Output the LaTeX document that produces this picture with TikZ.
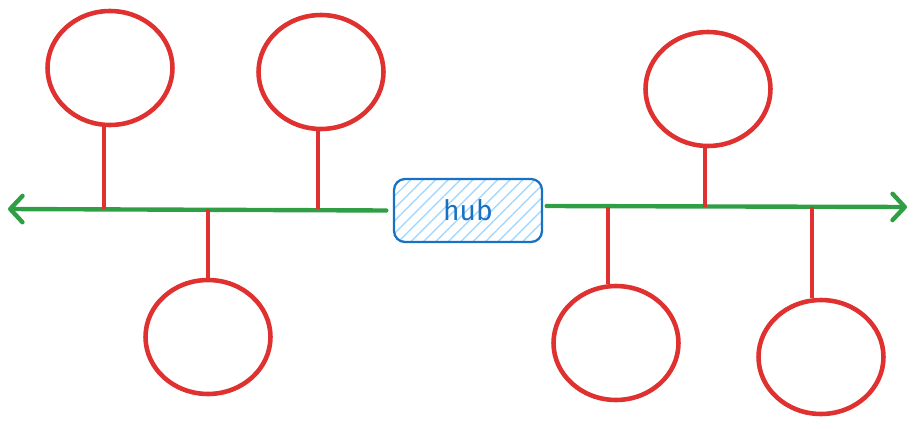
\documentclass[tikz,border=0pt]{standalone}
\usepackage{fontspec}
\setmainfont{Fira Sans}
\usetikzlibrary{shapes.geometric,arrows.meta,patterns.meta}
\definecolor{stemred}{HTML}{E03131}
\definecolor{busgreen}{HTML}{2F9E44}
\definecolor{hubblue}{HTML}{1971C2}
\definecolor{hubhatch}{HTML}{A5D8FF}
\tikzset{
  peer/.style={ellipse, draw=stemred, line width=2.6pt, minimum width=2.5cm, minimum height=2.28cm, inner sep=0pt},
  stem/.style={stemred, line width=2.6pt},
  bus/.style={busgreen, line width=2.5pt, line cap=round, -{Straight Barb[length=7pt,width=15pt,line width=2.5pt,round]}},
  hubbox/.style={draw=hubblue, line width=1.3pt, rounded corners=0.22cm,
    pattern={Lines[angle=45,distance=5pt,line width=0.8pt]}, pattern color=hubhatch,
    minimum width=2.96cm, minimum height=1.26cm, text=hubblue, font=\fontsize{16}{19}\selectfont}
}
\begin{document}
\begin{tikzpicture}[x=0.02cm, y=-0.02cm]

        \useasboundingbox (0,0) rectangle (916,429);

        \node[hubbox] (hub) at (468,210.5) {hub};

        \coordinate (westend) at (8,209);
        \coordinate (eastend) at (907,207);

        \draw[bus] ([xshift=-0.14cm]hub.west) -- (westend);
        \draw[bus] ([xshift=0.08cm,yshift=0.09cm]hub.east) -- (eastend);

        % peers on the west side
        \node[peer] (p1) at (110,68) {};
        \node[peer] (p2) at (321,72) {};
        \node[peer] (p3) at (208,337) {};

        % peers on the east side
        \node[peer] (p4) at (708,89) {};
        \node[peer] (p5) at (616,343) {};
        \node[peer] (p6) at (821,357) {};

        \draw[stem] ([xshift=-0.12cm]p1.south) -- ([xshift=-0.12cm]p1.south |- westend);
        \draw[stem] ([xshift=-0.06cm]p2.south) -- ([xshift=-0.06cm]p2.south |- westend);
        \draw[stem] (p3.north) -- (p3.north |- westend);
        \draw[stem] ([xshift=-0.06cm]p4.south) -- ([xshift=-0.06cm]p4.south |- eastend);
        \draw[stem] ([xshift=-0.16cm]p5.north) -- ([xshift=-0.16cm]p5.north |- eastend);
        \draw[stem] ([xshift=-0.18cm]p6.north) -- ([xshift=-0.18cm]p6.north |- eastend);

\end{tikzpicture}
\end{document}
